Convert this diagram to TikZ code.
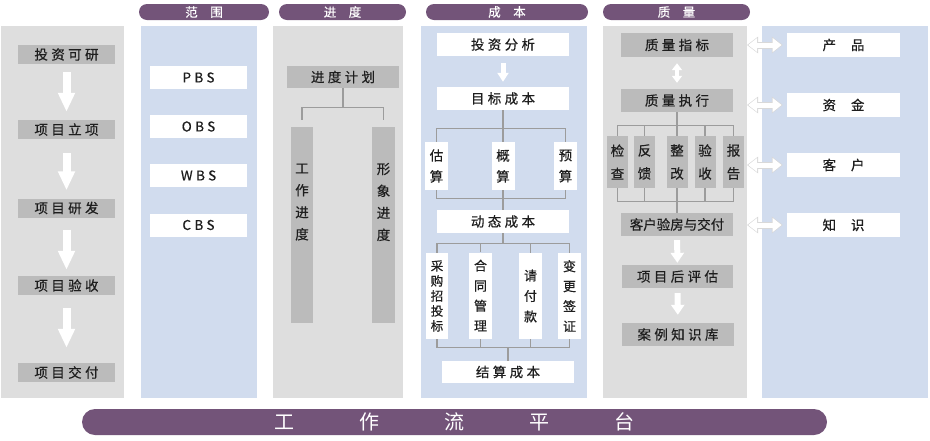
\documentclass[tikz,border=0pt]{standalone}
\usepackage{fontspec}
\setmainfont[FakeBold=0.5]{Noto Sans CJK SC}
\newfontfamily\spaced[LetterSpace=25,FakeBold=0.5]{Noto Sans CJK SC}
\newfontfamily\thinfont{Noto Sans CJK SC}
\usetikzlibrary{arrows.meta,positioning,shapes.misc}
\definecolor{panelgray}{HTML}{DEDEDE}
\definecolor{panelblue}{HTML}{D1DCEE}
\definecolor{boxgray}{HTML}{BBBBBB}
\definecolor{headpurple}{HTML}{735479}
\definecolor{treegray}{HTML}{9C9C9C}
\definecolor{inkgray}{HTML}{1E1E1E}

\begin{document}
\begin{tikzpicture}[
    x=1pt, y=-1pt,
    font=\fontsize{13.5}{15}\selectfont\spaced,
    every node/.style={inner sep=0pt, text=inkgray},
    % Box e barre
    graybox/.style={rectangle, fill=boxgray, minimum width=97pt, minimum height=19pt},
    whitebox/.style={rectangle, fill=white, minimum width=97pt, minimum height=23pt},
    graybar/.style={rectangle, fill=boxgray, minimum width=22pt, minimum height=196pt},
    vlabel/.style={align=center, font=\fontsize{13.5}{22}\selectfont, text=inkgray},
    vbox/.style={rectangle, fill=white, minimum width=23pt, align=center},
    qbox/.style={rectangle, fill=boxgray, minimum width=21pt, minimum height=52pt, align=center, font=\fontsize{13.5}{23}\selectfont},
    pill/.style={rounded rectangle, fill=headpurple, text=white, minimum height=16pt, font=\fontsize{12.5}{12}\selectfont},
    plain/.style={font=\fontsize{13.5}{15}\selectfont},
    % Connettori
    tree/.style={draw=treegray, line width=1.3pt},
    bigarrow/.style={white, line width=8pt, -{Triangle[width=16pt,length=19pt]}},
    smallarrow/.style={white, line width=5pt, -{Triangle[width=11pt,length=9pt]}},
    midarrow/.style={white, line width=6pt, -{Triangle[width=13pt,length=10pt]}},
    vdbl/.style={white, line width=4pt, {Triangle[width=10pt,length=7pt]}-{Triangle[width=10pt,length=7pt]}},
    dblout/.style={draw=gray!30, line width=7pt, {Triangle[width=16pt,length=11pt]}-{Triangle[width=16pt,length=11pt]}},
    dblin/.style={white, line width=5pt, {Triangle[width=13.5pt,length=9pt]}-{Triangle[width=13.5pt,length=9pt]}}
  ]
  \useasboundingbox (0,0) rectangle (930,440);

  % Pannelli
  \fill[panelgray] (1,26) rectangle (124,398);
  \fill[panelblue] (141,26) rectangle (257,398);
  \fill[panelgray] (273,26) rectangle (403,398);
  \fill[panelblue] (421,26) rectangle (587,398);
  \fill[panelgray] (603,26) rectangle (747,398);
  \fill[panelblue] (762,26) rectangle (928,398);
  \coordinate (qedge) at (747,0);

  % Intestazioni
  \node[pill, minimum width=130pt] (hscope) at (204,12) {范\hspace{1em}围};
  \node[pill, minimum width=127pt] (hsched) at (342.5,12) {进\hspace{1em}度};
  \node[pill, minimum width=162pt] (hcost) at (507,12) {成\hspace{1em}本};
  \node[pill, minimum width=147pt] (hqual) at (676.5,12) {质\hspace{1em}量};

  % Ciclo di vita
  \node[graybox] (feas) at (66.5,54.5) {投资可研};
  \node[graybox] (approve) at (66.5,129.5) {项目立项};
  \node[graybox] (develop) at (66.5,208) {项目研发};
  \node[graybox] (accept) at (66.5,285.5) {项目验收};
  \node[graybox] (deliver) at (66.5,372.5) {项目交付};

  \draw[bigarrow, shorten <=8pt, shorten >=8pt] (feas) -- (approve);
  \draw[bigarrow, shorten <=14pt, shorten >=8pt] (approve) -- (develop);
  \draw[bigarrow, shorten <=12pt, shorten >=6pt] (develop) -- (accept);
  \draw[bigarrow, shorten <=13pt, shorten >=15pt] (accept) -- (deliver);

  % Ambito
  \node[whitebox] (pbs) at (198.5,77.5) {PBS};
  \node[whitebox] (obs) at (198.5,126.5) {OBS};
  \node[whitebox] (wbs) at (198.5,175.5) {WBS};
  \node[whitebox] (cbs) at (198.5,225) {CBS};

  % Programma
  \node[graybox, minimum width=112pt, minimum height=22pt] (plan) at (343,77) {进度计划};
  \node[graybar, label={[vlabel, yshift=23pt]center:工\\作\\进\\度}] (work) at (302,225) {};
  \node[graybar, minimum width=23pt, label={[vlabel, yshift=23pt]center:形\\象\\进\\度}] (image) at (383.5,225) {};

  \draw[tree] (plan.south) -- ++(0,19) coordinate (planjoin);
  \draw[tree] (planjoin) -| ([yshift=7pt]work.north);
  \draw[tree] (planjoin) -| ([yshift=7pt]image.north);

  % Costi
  \node[whitebox, minimum width=132pt] (invest) at (503,44.5) {投资分析};
  \node[whitebox, minimum width=132pt] (target) at (503,98.5) {目标成本};
  \node[vbox, minimum height=48pt, font=\fontsize{13.5}{21}\selectfont] (estim) at (436.5,166) {估\\算};
  \node[vbox, minimum height=48pt, font=\fontsize{13.5}{21}\selectfont] (rough) at (503,166) {概\\算};
  \node[vbox, minimum height=48pt, font=\fontsize{13.5}{21}\selectfont] (budget) at (565.5,166) {预\\算};
  \node[whitebox, minimum width=132pt] (dyn) at (503,221.5) {动态成本};
  \node[vbox, minimum width=22pt, minimum height=86pt, font=\fontsize{12.5}{15}\selectfont] (procure) at (437,296) {采\\购\\招\\投\\标};
  \node[vbox, minimum height=86pt, font=\fontsize{13}{20}\selectfont] (contract) at (480.5,295.5) {合\\同\\管\\理};
  \node[vbox, minimum height=86pt, font=\fontsize{13}{20.5}\selectfont] (payment) at (530.5,296) {请\\付\\款};
  \node[vbox, minimum height=86pt, font=\fontsize{13}{20}\selectfont] (change) at (569.5,296) {变\\更\\签\\证};
  \node[whitebox, minimum width=132pt, minimum height=22pt] (settle) at (508,372) {结算成本};

  \draw[smallarrow, shorten <=7pt, shorten >=5pt] (invest) -- (target);

  \draw[tree] (target.south) -- ++(0,18) coordinate (tj1);
  \draw[tree] (tj1) -| (estim.north);
  \draw[tree] (tj1) -- (rough.north);
  \draw[tree] (tj1) -| (budget.north);
  \draw[tree] (dyn.north) -- ++(0,-11) coordinate (tj2);
  \draw[tree] (tj2) -| (estim.south);
  \draw[tree] (tj2) -- (rough.south);
  \draw[tree] (tj2) -| (budget.south);

  \draw[tree] (dyn.south) -- ++(0,10) coordinate (tj3);
  \draw[tree] (tj3) -| (procure.north);
  \draw[tree] (tj3) -| (contract.north);
  \draw[tree] (tj3) -| (payment.north);
  \draw[tree] (tj3) -| (change.north);
  \draw[tree] (settle.north) -- ++(0,-13) coordinate (tj4);
  \draw[tree] (tj4) -| (procure.south);
  \draw[tree] (tj4) -| (contract.south);
  \draw[tree] (tj4) -| (payment.south);
  \draw[tree] (tj4) -| (change.south);

  % Qualita
  \node[graybox, minimum width=112pt, minimum height=24pt] (qindex) at (677,45) {质量指标};
  \node[graybox, minimum width=112pt, minimum height=23pt] (qexec) at (677,100.5) {质量执行};
  \node[qbox] (check) at (617.5,162) {检\\查};
  \node[qbox] (feedback) at (644.5,162) {反\\馈};
  \node[qbox] (rectify) at (677,162) {整\\改};
  \node[qbox] (verify) at (705,162) {验\\收};
  \node[qbox] (report) at (733.5,162) {报\\告};
  \node[graybox, plain, minimum width=112pt, minimum height=23pt] (handover) at (677,224.5) {客户验房与交付};
  \node[graybox, minimum width=111pt, minimum height=23pt] (review) at (677.5,276.5) {项目后评估};
  \node[graybox, minimum width=112pt, minimum height=23pt] (caselib) at (678,334.5) {案例知识库};

  \draw[vdbl, shorten <=6pt, shorten >=6pt] (qindex) -- (qexec);
  \draw[tree] (qexec.south) -- ++(0,13) coordinate (qj1);
  \foreach \b in {check,feedback,rectify,verify,report}
    \draw[tree] (qj1) -| (\b.north);
  \draw[tree] (handover.north) -- ++(0,-11) coordinate (qj2);
  \foreach \b in {check,feedback,rectify,verify,report}
    \draw[tree] (qj2) -| (\b.south);
  \draw[midarrow, shorten <=4pt, shorten >=2pt] (handover) -- (review);
  \draw[midarrow, shorten <=5pt, shorten >=8pt] (review) -- (caselib);

  % Risorse
  \node[whitebox, plain, minimum width=113pt, minimum height=24pt] (product) at (843.5,45) {产\hspace{1.1em}品};
  \node[whitebox, plain, minimum width=113pt, minimum height=24pt] (fund) at (843.5,105) {资\hspace{1.1em}金};
  \node[whitebox, plain, minimum width=113pt, minimum height=24pt] (client) at (843.5,165) {客\hspace{1.1em}户};
  \node[whitebox, plain, minimum width=113pt, minimum height=24pt] (know) at (843.5,225) {知\hspace{1.1em}识};

  \foreach \t in {product,fund,client,know} {
    \draw[dblout, shorten <=4pt] (\t.west) -- (\t.west -| qedge);
    \draw[dblin, shorten <=5.2pt, shorten >=1.2pt] (\t.west) -- (\t.west -| qedge);
  }

  % Piattaforma
  \node[pill, minimum width=745pt, minimum height=26pt, font=\fontsize{20}{20}\selectfont\thinfont] (platform) at (454.5,422)
    {工\hspace{65pt}作\hspace{65pt}流\hspace{65pt}平\hspace{65pt}台\hspace{40pt}};

\end{tikzpicture}
\end{document}
